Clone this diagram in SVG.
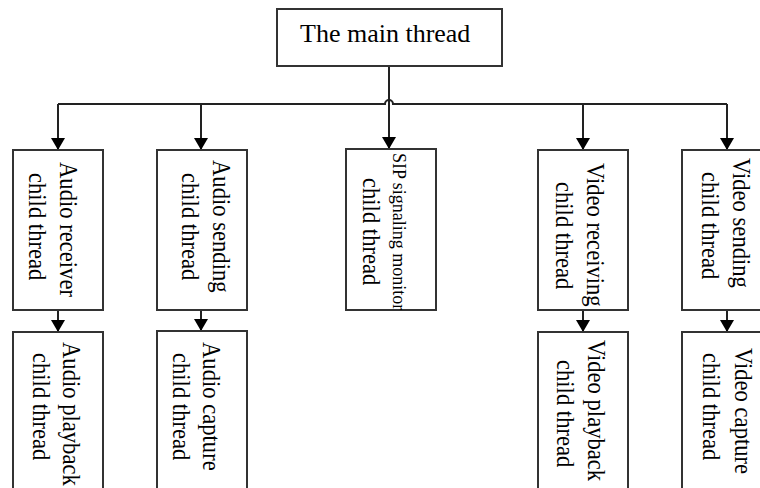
<svg xmlns="http://www.w3.org/2000/svg" width="760" height="488" viewBox="0 0 760 488">
<style>
.box{fill:#fff;stroke:#333;stroke-width:2}
.ln{fill:none;stroke:#222;stroke-width:2}
.t{font-family:"Liberation Serif","Times New Roman",serif;font-size:26px;fill:#000}
.s{font-family:"Liberation Serif","Times New Roman",serif;font-size:18px;fill:#000}
</style>
<defs>
<marker id="ah" viewBox="0 -7 12 14" refX="12" refY="0" markerWidth="12" markerHeight="14" markerUnits="userSpaceOnUse" orient="auto">
<path d="M0,-7 L12,0 L0,7 z" fill="#000"/>
</marker>
</defs>
<g id="connectors">
<path class="ln" d="M389,66 V149" marker-end="url(#ah)"/>
<path class="ln" d="M58,104 H385 A4,4 0 0 1 393,104 H727"/>
<path class="ln" d="M58,104 V150" marker-end="url(#ah)"/>
<path class="ln" d="M201,104 V150" marker-end="url(#ah)"/>
<path class="ln" d="M583,104 V150" marker-end="url(#ah)"/>
<path class="ln" d="M727,104 V150" marker-end="url(#ah)"/>
<path class="ln" d="M58,310 V332" marker-end="url(#ah)"/>
<path class="ln" d="M201,310 V331" marker-end="url(#ah)"/>
<path class="ln" d="M583,310 V332" marker-end="url(#ah)"/>
<path class="ln" d="M727,310 V332" marker-end="url(#ah)"/>
</g>
<g id="main">
<rect class="box" x="277" y="9" width="225" height="57"/>
<text class="t" x="300" y="42">The main thread</text>
</g>
<g id="audio-receiver">
<rect class="box" x="13" y="150" width="90" height="160"/>
<text class="t" transform="translate(60,162) rotate(90) scale(0.87,1)">Audio receiver</text>
<text class="t" transform="translate(29,173) rotate(90) scale(0.87,1)">child thread</text>
</g>
<g id="audio-sending">
<rect class="box" x="157" y="150" width="90" height="160"/>
<text class="t" transform="translate(213,160) rotate(90) scale(0.87,1)">Audio sending</text>
<text class="t" transform="translate(182,173) rotate(90) scale(0.87,1)">child thread</text>
</g>
<g id="sip">
<rect class="box" x="346" y="149" width="90" height="161"/>
<text class="s" transform="translate(393,153) rotate(90)">SIP signaling monitor</text>
<text class="t" transform="translate(363,178) rotate(90) scale(0.87,1)">child thread</text>
</g>
<g id="video-receiving">
<rect class="box" x="538" y="150" width="90" height="160"/>
<text class="t" transform="translate(587,163) rotate(90) scale(0.87,1)">Video receiving</text>
<text class="t" transform="translate(556,182) rotate(90) scale(0.87,1)">child thread</text>
</g>
<g id="video-sending">
<rect class="box" x="682" y="150" width="90" height="160"/>
<text class="t" transform="translate(733,158) rotate(90) scale(0.87,1)">Video sending</text>
<text class="t" transform="translate(702,172) rotate(90) scale(0.87,1)">child thread</text>
</g>
<g id="audio-playback">
<rect class="box" x="13" y="332" width="90" height="170"/>
<text class="t" transform="translate(63,342) rotate(90) scale(0.87,1)">Audio playback</text>
<text class="t" transform="translate(33,353) rotate(90) scale(0.87,1)">child thread</text>
</g>
<g id="audio-capture">
<rect class="box" x="157" y="331" width="90" height="170"/>
<text class="t" transform="translate(203,342) rotate(90) scale(0.87,1)">Audio capture</text>
<text class="t" transform="translate(173,353) rotate(90) scale(0.87,1)">child thread</text>
</g>
<g id="video-playback">
<rect class="box" x="538" y="332" width="90" height="170"/>
<text class="t" transform="translate(588,340) rotate(90) scale(0.87,1)">Video playback</text>
<text class="t" transform="translate(557,360) rotate(90) scale(0.87,1)">child thread</text>
</g>
<g id="video-capture">
<rect class="box" x="682" y="332" width="90" height="170"/>
<text class="t" transform="translate(735,348) rotate(90) scale(0.87,1)">Video capture</text>
<text class="t" transform="translate(703,353) rotate(90) scale(0.87,1)">child thread</text>
</g>
</svg>
